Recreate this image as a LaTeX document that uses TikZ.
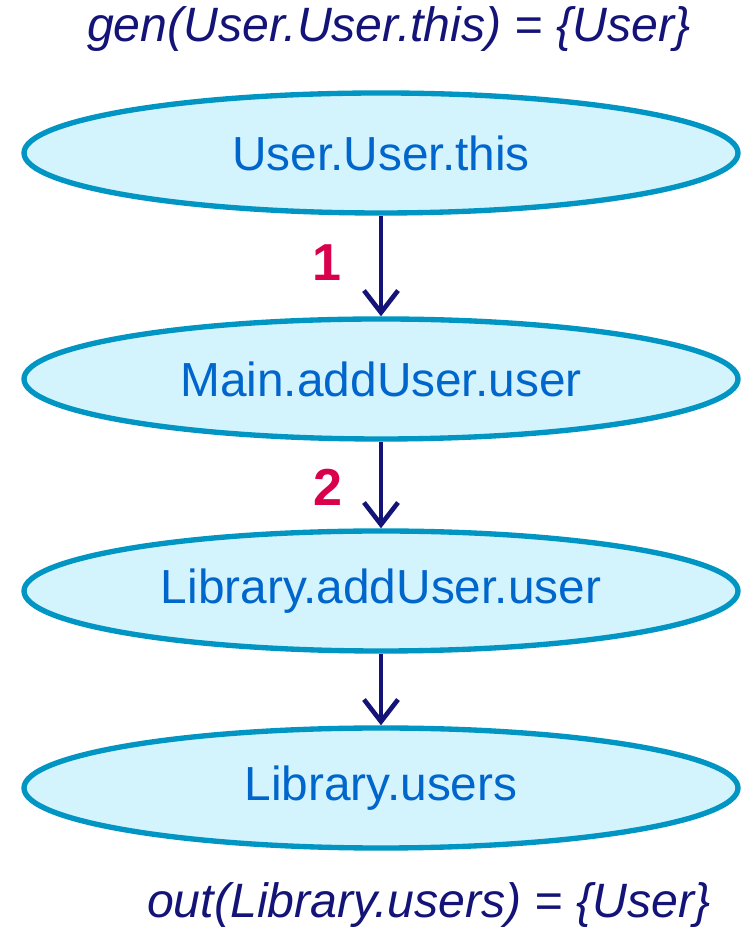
\documentclass[tikz,border=0pt]{standalone}
\usepackage{fontspec}
\setmainfont{Liberation Sans}
\usepackage{xcolor}
\usetikzlibrary{shapes.geometric,arrows.meta}
\definecolor{PtFill}{HTML}{D3F3FD}
\definecolor{PtLine}{HTML}{0095C2}
\definecolor{PtText}{HTML}{0066CC}
\definecolor{PtNavy}{HTML}{141478}
\definecolor{PtStep}{HTML}{D9004C}

\tikzset{
  varnode/.style={ellipse,draw=PtLine,fill=PtFill,line width=3.8pt,inner sep=0pt,
    minimum width=17.85cm,minimum height=3.0cm,text=PtText,
    font=\fontsize{34}{40}\selectfont},
  flow/.style={draw=PtNavy,line width=3.3pt,-{Straight Barb[length=0.55cm,width=0.85cm,line width=3.3pt]}},
  steplabel/.style={text=PtStep,font=\fontsize{37}{44}\selectfont\bfseries},
  setlabel/.style={text=PtNavy,font=\fontsize{34.3}{40}\selectfont\itshape}
}

\begin{document}
\begin{tikzpicture}[x=1cm,y=1cm]
\path[use as bounding box] (0,0) rectangle (18.575,23.275);
% points-to chain
\node[varnode] (uthis) at (9.525,19.45) {User.User.this};
\node[varnode] (mainuser) at (9.525,13.8) {Main.addUser.user};
\node[varnode] (libuser) at (9.525,8.5) {Library.addUser.user};
\node[varnode] (libusers) at (9.525,3.575) {Library.users};
\draw[flow] (uthis.south) -- (mainuser.north);
\draw[flow] (mainuser.south) -- (libuser.north);
\draw[flow] (libuser.south) -- (libusers.north);
\node[steplabel] (one) at (8.18,16.7) {1};
\node[steplabel] (two) at (8.2,11.1) {2};
% gen and out sets
\node[setlabel] (gen) at (9.72,22.55) {gen(User.User.this) = \{User\}};
\node[setlabel] (out) at (10.72,0.65) {out(Library.users) = \{User\}};
\end{tikzpicture}
\end{document}
